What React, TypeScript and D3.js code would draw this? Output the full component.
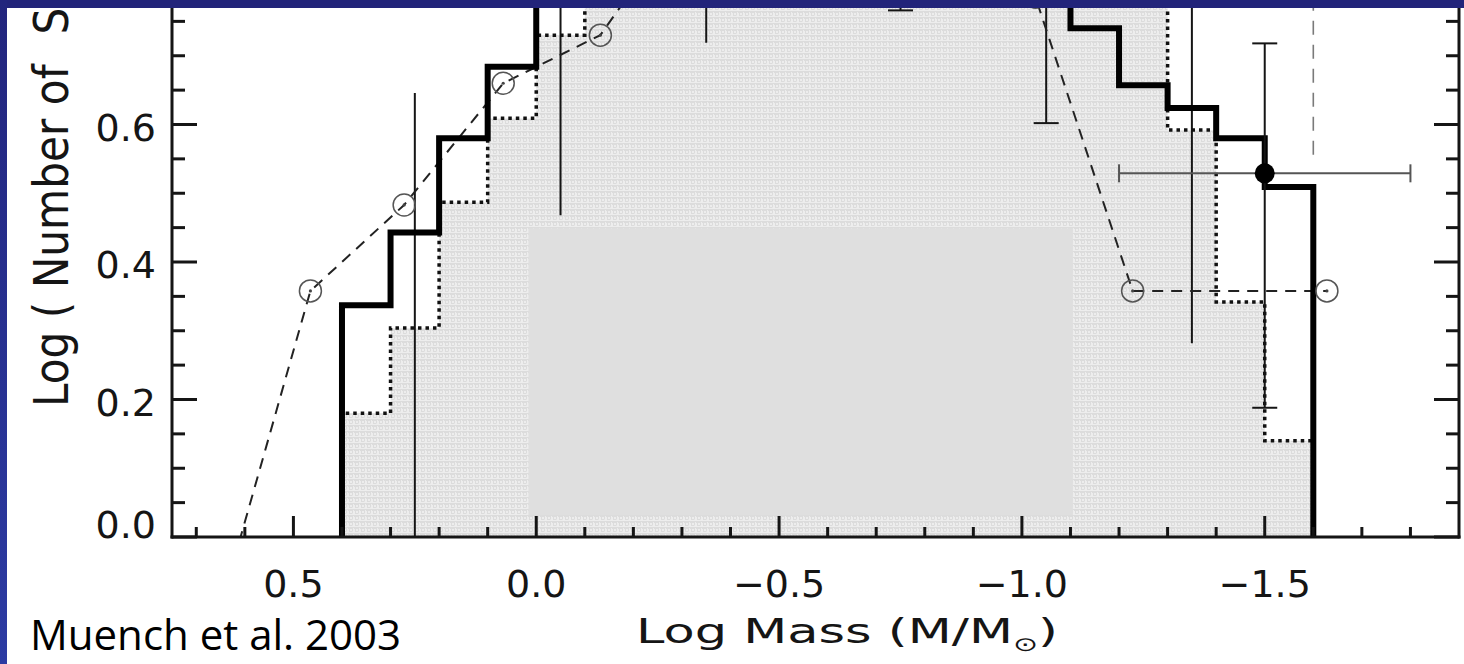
import React from "react";
import * as d3 from "d3";

// ---- data ----
const binEdges = [0.4, 0.3, 0.2, 0.1, 0.0, -0.1, -0.2, -0.3, -0.4, -0.5, -0.6, -0.7, -0.8, -0.9, -1.0, -1.1, -1.2, -1.3, -1.4, -1.5, -1.6];
// thick solid histogram (bins between consecutive edges); values above ~0.77 are cut off in the reference
const solidLogN = [0.337, 0.443, 0.58, 0.684, 0.82, 0.88, 0.92, 0.96, 0.98, 1.0, 0.98, 0.95, 0.92, 0.88, 0.82, 0.74, 0.657, 0.624, 0.58, 0.509];
// dotted (shaded) histogram
const dottedLogN = [0.18, 0.304, 0.487, 0.609, 0.73, 0.86, 0.92, 0.97, 1.0, 1.02, 1.0, 0.98, 0.95, 0.92, 0.9, 0.86, 0.82, 0.592, 0.342, 0.14];
// dashed model with open circles
const modelMass = [0.665, 0.465, 0.272, 0.068, -0.132, -0.332, -0.532, -0.732, -0.93, -1.028, -1.228, -1.628];
const modelLogN = [-0.14, 0.358, 0.483, 0.66, 0.73, 0.93, 1.0, 0.97, 0.9, 0.785, 0.358, 0.358];
// vertical error bars
const errMass = [0.25, -0.05, -0.35, -0.75, -1.05, -1.35];
const errLow = [-0.5, 0.468, 0.719, 0.766, 0.602, 0.282];
const errHigh = [0.646, 1.2, 1.2, 1.2, 1.2, 1.2];
const errLowCap = [false, false, false, true, true, false];
// filled point with x and y error bars
const pointMass = [-1.5];
const pointLogN = [0.529];
const pointXLo = [-1.2];
const pointXHi = [-1.8];
const pointYLo = [0.188];
const pointYHi = [0.718];
// vertical dashed limit
const limitMass = [-1.6];
const limitFrom = [0.556];
// masked (blanked-out) box in data units
const maskMass = [0.016, -1.105];
const maskLogN = [0.032, 0.449];
// ticks
const xMajorTicks = [0.5, 0.0, -0.5, -1.0, -1.5];
const xTickLabels = ["0.5", "0.0", "\u22120.5", "\u22121.0", "\u22121.5"];
const yMajorTicks = [0.0, 0.2, 0.4, 0.6, 0.8];
const yTickLabels = ["0.0", "0.2", "0.4", "0.6", "0.8"];

const W = 1464;
const H = 664;
const L = 172, R = 1459, B = 537;

export default function App() {
  const x = d3.scaleLinear().domain([0.75, -1.9]).range([L, R]);
  const y = d3.scaleLinear().domain([0, 0.8]).range([B, -13]);

  const steps = (vals: number[]) => {
    const pts: [number, number][] = [[binEdges[0], 0]];
    vals.forEach((v, i) => {
      pts.push([binEdges[i], v]);
      pts.push([binEdges[i + 1], v]);
    });
    pts.push([binEdges[binEdges.length - 1], 0]);
    return pts;
  };
  const line = d3.line<[number, number]>().x((d) => x(d[0])).y((d) => y(d[1]));
  const area = d3.area<[number, number]>().x((d) => x(d[0])).y0(y(0)).y1((d) => y(d[1]));

  const solidPts = steps(solidLogN);
  const dottedPts = steps(dottedLogN);
  const modelPts: [number, number][] = modelMass.map((m, i) => [m, modelLogN[i]]);

  const xMinor = d3.range(0.7, -1.85, -0.1).map((v) => Math.round(v * 10) / 10);
  const yMinor = d3.range(0, 0.801, 0.05).map((v) => Math.round(v * 100) / 100);
  const isMajorY = (v: number) => yMajorTicks.some((t) => Math.abs(t - v) < 1e-6);
  const isMajorX = (v: number) => xMajorTicks.some((t) => Math.abs(t - v) < 1e-6);

  const ink = "#151515";

  return (
    <svg width={W} height={H} style={{ position: "absolute", left: 0, top: 0, background: "#fff" }}>
      <defs>
        <clipPath id="plot">
          <rect x={L} y={y(0.8)} width={R - L} height={B - y(0.8)} />
        </clipPath>
        <pattern id="tex" width="6" height="6" patternUnits="userSpaceOnUse">
          <rect width="6" height="6" fill="#ededed" />
          <path d="M0 0.5h4M4.5 0v3.5M1 3.5h3M0 5.5h6M1.5 1v2" stroke="#dcdcdc" strokeWidth="1" fill="none" />
        </pattern>
        <linearGradient id="leftBlue" x1="0" y1="0" x2="0" y2="1">
          <stop offset="0" stopColor="#22257d" />
          <stop offset="1" stopColor="#2c3ba3" />
        </linearGradient>
      </defs>
      <rect x={0} y={0} width={W} height={H} fill="#fff" />

      <g clipPath="url(#plot)">
        {/* shaded area under dotted histogram */}
        <path d={area(dottedPts) || ""} fill="url(#tex)" />
        {/* masked box */}
        <rect
          x={x(maskMass[0])}
          y={y(maskLogN[1])}
          width={x(maskMass[1]) - x(maskMass[0])}
          height={y(maskLogN[0]) - y(maskLogN[1])}
          fill="#dfdfdf"
        />
        {/* vertical dashed limit */}
        {limitMass.map((m, i) => (
          <line key={"lim" + i} x1={x(m)} x2={x(m)} y1={y(limitFrom[i])} y2={y(0.8)} stroke="#7a7a7a" strokeWidth={1.6} strokeDasharray="14,10" />
        ))}
        {/* error bars */}
        {errMass.map((m, i) => (
          <g key={"e" + i} stroke={ink} strokeWidth={2}>
            <line x1={x(m)} x2={x(m)} y1={y(Math.max(errLow[i], 0))} y2={y(errHigh[i])} />
            {errLowCap[i] && <line x1={x(m) - 12.5} x2={x(m) + 12.5} y1={y(errLow[i])} y2={y(errLow[i])} />}
          </g>
        ))}
        {/* dashed model */}
        <path d={line(modelPts) || ""} fill="none" stroke="#222" strokeWidth={2} strokeDasharray="11,8" />
        {/* dotted histogram */}
        <path d={line(dottedPts) || ""} fill="none" stroke="#111" strokeWidth={3.5} strokeDasharray="3.5,4" />
        {/* solid histogram */}
        <path d={line(solidPts) || ""} fill="none" stroke="#000" strokeWidth={6} strokeLinejoin="miter" />
        {/* open circles */}
        {modelPts.map((p, i) => (
          <g key={"c" + i}>
            <circle cx={x(p[0])} cy={y(p[1])} r={11} fill="none" stroke="#555" strokeWidth={1.5} />
            <circle cx={x(p[0])} cy={y(p[1])} r={1.6} fill="#444" />
          </g>
        ))}
        {/* filled point */}
        {pointMass.map((m, i) => (
          <g key={"p" + i}>
            <g stroke="#555" strokeWidth={2}>
              <line x1={x(pointXLo[i])} x2={x(pointXHi[i])} y1={y(pointLogN[i])} y2={y(pointLogN[i])} />
              <line x1={x(pointXLo[i])} x2={x(pointXLo[i])} y1={y(pointLogN[i]) - 9} y2={y(pointLogN[i]) + 9} />
              <line x1={x(pointXHi[i])} x2={x(pointXHi[i])} y1={y(pointLogN[i]) - 9} y2={y(pointLogN[i]) + 9} />
            </g>
            <g stroke={ink} strokeWidth={2}>
              <line x1={x(m)} x2={x(m)} y1={y(pointYLo[i])} y2={y(pointYHi[i])} />
              <line x1={x(m) - 12.5} x2={x(m) + 12.5} y1={y(pointYLo[i])} y2={y(pointYLo[i])} />
              <line x1={x(m) - 12.5} x2={x(m) + 12.5} y1={y(pointYHi[i])} y2={y(pointYHi[i])} />
            </g>
            <circle cx={x(m)} cy={y(pointLogN[i])} r={10} fill="#000" />
          </g>
        ))}
      </g>

      {/* axes */}
      <g stroke={ink} strokeWidth={3} fill="none">
        <line x1={L} x2={L} y1={0} y2={B + 1.5} />
        <line x1={R} x2={R} y1={0} y2={B + 1.5} />
        <line x1={L - 1.5} x2={R + 1.5} y1={B} y2={B} />
        {yMinor.map((v) => {
          const len = isMajorY(v) ? 25 : 13;
          return (
            <g key={"yt" + v}>
              <line x1={L} x2={L + len} y1={y(v)} y2={y(v)} />
              <line x1={R} x2={R - len} y1={y(v)} y2={y(v)} />
            </g>
          );
        })}
        {xMinor.map((v) => {
          const len = isMajorX(v) ? 21 : 10;
          return <line key={"xt" + v} x1={x(v)} x2={x(v)} y1={B} y2={B - len} />;
        })}
      </g>

      {/* tick labels */}
      <g fontFamily="DejaVu Sans" fontSize={38} fill={ink}>
        {yMajorTicks.map((v, i) => (
          <text key={"yl" + i} x={156} y={Math.min(y(v) + 16, 538)} textAnchor="end">
            {yTickLabels[i]}
          </text>
        ))}
        {xMajorTicks.map((v, i) => (
          <text key={"xl" + i} x={x(v)} y={597} textAnchor="middle">
            {xTickLabels[i]}
          </text>
        ))}
      </g>

      {/* axis titles */}
      <text fontFamily="DejaVu Sans" fontSize={34} fill={ink} transform="translate(636,643) scale(1.5,1)">
        Log Mass (M/M
        <tspan fontSize={20} dy={8}>⊙</tspan>
        <tspan dy={-8}>)</tspan>
      </text>
      <text fontFamily="DejaVu Sans" fontSize={48} fill={ink} transform="translate(68,407) rotate(-90) scale(0.88,1)">
        Log ( Number of
        <tspan dx={34}>Stars )</tspan>
      </text>

      <text x={30} y={650} fontFamily="Open Sans" fontSize={42} fill="#000">
        Muench et al. 2003
      </text>

      {/* slide frame */}
      <rect x={0} y={0} width={W} height={8} fill="#22247a" />
      <rect x={0} y={0} width={7} height={H} fill="url(#leftBlue)" />
    </svg>
  );
}
